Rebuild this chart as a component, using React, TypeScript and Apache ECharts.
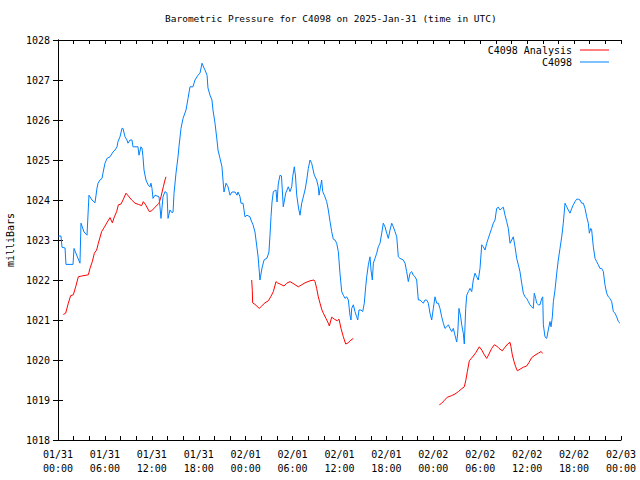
import React, { useEffect, useRef } from "react";
import * as echarts from "echarts";

// Hours since 2025-01-31 00:00 UTC, pressure in millibars
const stationReadings: [number, number][] = [
  [0.05, 1023.1], [0.38, 1023.1], [0.51, 1022.82], [0.9, 1022.8], [1.02, 1022.39], [1.92, 1022.39],
  [2.05, 1022.79], [2.43, 1022.6], [2.81, 1022.42], [2.94, 1023.42], [3.33, 1023.2], [3.71, 1023.12],
  [3.96, 1024.12], [4.35, 1024.0], [4.73, 1023.93], [4.99, 1024.3], [5.12, 1024.42], [5.37, 1024.5],
  [5.63, 1024.54], [5.75, 1024.67], [6.01, 1024.92], [6.27, 1025.04], [6.65, 1025.08], [7.03, 1025.2],
  [7.29, 1025.25], [7.55, 1025.33], [7.67, 1025.46], [7.93, 1025.58], [8.18, 1025.79], [8.31, 1025.79],
  [8.57, 1025.58], [8.82, 1025.5], [8.95, 1025.42], [9.21, 1025.5], [9.46, 1025.5], [9.59, 1025.33],
  [10.23, 1025.33], [10.36, 1025.12], [10.61, 1025.33], [10.74, 1025.3], [10.87, 1025.08], [11.0, 1024.75],
  [11.25, 1024.5], [11.51, 1024.38], [11.77, 1024.33], [11.89, 1024.42], [12.02, 1024.29], [12.15, 1024.04],
  [12.41, 1024.12], [12.92, 1024.08], [13.04, 1023.83], [13.17, 1023.54], [13.3, 1023.8], [13.43, 1024.08],
  [13.68, 1024.21], [13.94, 1024.17], [14.07, 1023.54], [14.32, 1023.75], [14.58, 1023.68], [14.71, 1023.7],
  [14.84, 1024.17], [15.09, 1024.67], [15.35, 1025.08], [15.47, 1025.33], [15.73, 1025.79], [15.99, 1026.04],
  [16.37, 1026.25], [16.63, 1026.54], [16.88, 1026.83], [17.26, 1026.83], [17.52, 1027.0], [17.9, 1027.12],
  [18.16, 1027.17], [18.42, 1027.42], [18.67, 1027.3], [18.8, 1027.25], [19.06, 1027.12], [19.18, 1026.8],
  [19.44, 1026.62], [19.69, 1026.5], [19.82, 1026.25], [20.08, 1025.92], [20.33, 1025.5], [20.46, 1025.25],
  [20.72, 1025.04], [20.97, 1024.83], [21.1, 1024.5], [21.23, 1024.2], [21.49, 1024.42], [21.74, 1024.33],
  [22.0, 1024.12], [22.25, 1024.2], [22.64, 1024.2], [22.89, 1024.12], [23.02, 1024.2], [23.28, 1024.08],
  [23.4, 1023.92], [23.66, 1023.92], [23.79, 1023.75], [23.91, 1023.58], [24.17, 1023.62], [24.55, 1023.58],
  [24.68, 1023.5], [24.94, 1023.38], [25.19, 1023.2], [25.32, 1023.0], [25.58, 1022.6], [25.83, 1022.0],
  [26.09, 1022.3], [26.35, 1022.5], [26.73, 1022.55], [26.98, 1022.7], [27.11, 1023.12], [27.24, 1023.58],
  [27.37, 1023.95], [27.54, 1024.21], [27.88, 1024.25], [28.01, 1023.95], [28.17, 1024.4], [28.39, 1024.62],
  [28.58, 1024.6], [28.81, 1023.83], [29.12, 1024.17], [29.45, 1024.33], [29.67, 1024.21], [29.89, 1024.33],
  [30.01, 1024.58], [30.22, 1024.83], [30.37, 1024.6], [30.53, 1024.12], [30.76, 1023.8], [30.95, 1023.62],
  [31.17, 1023.92], [31.59, 1024.25], [31.81, 1024.5], [32.01, 1024.79], [32.23, 1025.0], [32.44, 1024.92],
  [32.78, 1024.62], [33.08, 1024.5], [33.29, 1024.33], [33.38, 1024.12], [33.72, 1024.5], [33.85, 1024.21],
  [34.06, 1024.12], [34.36, 1023.96], [34.57, 1023.75], [34.79, 1023.46], [35.0, 1023.21], [35.21, 1023.02],
  [35.42, 1023.0], [35.64, 1022.92], [35.85, 1022.71], [36.06, 1022.17], [36.28, 1021.71], [36.49, 1021.62],
  [36.7, 1021.54], [36.92, 1021.58], [37.13, 1021.5], [37.34, 1021.12], [37.47, 1021.0], [37.56, 1021.29],
  [37.77, 1021.38], [37.98, 1021.21], [38.2, 1021.08], [38.33, 1021.0], [38.49, 1021.25], [38.75, 1021.25],
  [38.97, 1021.21], [39.17, 1021.42], [39.35, 1021.83], [39.48, 1022.08], [39.69, 1022.38], [39.9, 1022.58],
  [40.03, 1022.25], [40.2, 1022.0], [40.33, 1022.42], [40.54, 1022.54], [40.76, 1022.67], [40.96, 1022.83],
  [41.18, 1022.92], [41.4, 1023.17], [41.6, 1023.42], [41.82, 1023.33], [42.04, 1023.17], [42.24, 1023.04],
  [42.46, 1023.25], [42.68, 1023.42], [42.88, 1023.33], [43.1, 1023.21], [43.32, 1023.08], [43.52, 1022.58],
  [43.74, 1022.54], [44.16, 1022.5], [44.38, 1022.42], [44.59, 1022.21], [44.8, 1021.96], [45.02, 1022.17],
  [45.23, 1022.21], [45.44, 1022.12], [45.66, 1022.08], [45.87, 1022.0], [46.08, 1021.5], [46.3, 1021.5],
  [46.72, 1021.42], [46.93, 1021.5], [47.15, 1021.5], [47.36, 1021.42], [47.57, 1021.17], [47.79, 1021.0],
  [48.0, 1021.29], [48.21, 1021.58], [48.43, 1021.42], [48.64, 1021.42], [48.85, 1021.29], [49.07, 1021.08],
  [49.28, 1020.92], [49.49, 1020.79], [49.71, 1020.83], [49.92, 1020.88], [50.13, 1020.79], [50.35, 1020.71],
  [50.56, 1020.79], [50.77, 1020.62], [50.99, 1020.45], [51.12, 1020.67], [51.28, 1021.29], [51.5, 1021.08],
  [51.63, 1020.88], [51.83, 1020.67], [51.96, 1020.4], [52.14, 1021.29], [52.27, 1021.62], [52.48, 1021.71],
  [52.69, 1021.79], [52.91, 1021.71], [53.11, 1022.0], [53.33, 1022.17], [53.54, 1022.08], [53.75, 1022.0],
  [53.97, 1022.29], [54.19, 1022.88], [54.39, 1022.83], [54.61, 1022.75], [54.83, 1022.92], [55.03, 1023.04],
  [55.25, 1023.17], [55.46, 1023.29], [55.67, 1023.42], [55.89, 1023.5], [56.1, 1023.79], [56.31, 1023.82],
  [56.53, 1023.75], [56.74, 1023.79], [56.95, 1023.82], [57.17, 1023.62], [57.38, 1023.46], [57.59, 1023.29],
  [57.81, 1022.92], [58.02, 1023.0], [58.23, 1023.08], [58.45, 1022.83], [58.66, 1022.54], [58.87, 1022.38],
  [59.08, 1022.21], [59.3, 1021.92], [59.51, 1021.67], [59.72, 1021.58], [59.94, 1021.54], [60.15, 1021.46],
  [60.36, 1021.38], [60.58, 1021.33], [60.78, 1021.29], [60.91, 1021.67], [61.09, 1021.54], [61.22, 1021.42],
  [61.43, 1021.38], [61.64, 1021.38], [61.86, 1021.54], [61.99, 1021.58], [62.07, 1020.88], [62.28, 1020.58],
  [62.5, 1020.54], [62.7, 1020.75], [62.92, 1020.96], [63.05, 1020.83], [63.22, 1021.08], [63.35, 1021.46],
  [63.56, 1021.75], [63.78, 1022.17], [63.98, 1022.5], [64.2, 1022.79], [64.42, 1023.08], [64.62, 1023.42],
  [64.84, 1023.92], [65.06, 1023.83], [65.26, 1023.75], [65.48, 1023.67], [65.7, 1023.79], [65.9, 1023.88],
  [66.12, 1023.96], [66.33, 1024.02], [66.54, 1024.02], [66.76, 1024.0], [66.97, 1023.92], [67.18, 1023.92],
  [67.4, 1023.79], [67.61, 1023.58], [67.82, 1023.42], [67.95, 1023.17], [68.13, 1023.29], [68.25, 1023.25],
  [68.46, 1022.83], [68.68, 1022.54], [68.89, 1022.46], [69.1, 1022.38], [69.31, 1022.29], [69.53, 1022.29],
  [69.74, 1022.21], [69.95, 1021.88], [70.17, 1021.67], [70.38, 1021.58], [70.59, 1021.54], [70.81, 1021.46],
  [71.02, 1021.21], [71.23, 1021.17], [71.45, 1021.08], [71.66, 1020.96], [71.87, 1020.92],
];

const analysisRun1: [number, number][] = [
  [0.68, 1021.14], [0.98, 1021.17], [1.32, 1021.42], [1.62, 1021.61], [1.96, 1021.63], [2.26, 1021.83],
  [2.6, 1022.08], [3.03, 1022.1], [3.88, 1022.13], [4.09, 1022.29], [4.39, 1022.46], [4.65, 1022.67],
  [4.94, 1022.75], [5.16, 1022.92], [5.58, 1023.21], [5.93, 1023.32], [6.22, 1023.42], [6.65, 1023.56],
  [6.95, 1023.43], [7.21, 1023.58], [7.5, 1023.71], [7.72, 1023.88], [8.06, 1023.9], [8.36, 1024.02],
  [8.7, 1024.17], [9.0, 1024.1], [9.42, 1024.0], [9.85, 1023.92], [10.28, 1023.89], [10.7, 1023.86],
  [10.91, 1023.96], [11.21, 1023.88], [11.68, 1023.71], [11.98, 1023.73], [12.41, 1023.82], [12.92, 1023.92],
  [13.17, 1024.08], [13.47, 1024.33], [13.68, 1024.5], [13.81, 1024.58],
];

const analysisRun2: [number, number][] = [
  [24.77, 1022.0], [24.85, 1021.73], [24.89, 1021.43], [25.19, 1021.39], [25.74, 1021.29], [26.05, 1021.35],
  [26.47, 1021.43], [26.9, 1021.48], [27.2, 1021.58], [27.54, 1021.71], [27.88, 1021.96], [28.05, 1021.93],
  [28.39, 1021.9], [28.9, 1021.85], [29.25, 1021.92], [29.67, 1021.96], [30.18, 1021.9], [30.73, 1021.83],
  [31.17, 1021.88], [31.59, 1021.93], [32.23, 1021.98], [32.74, 1022.0], [32.87, 1021.96], [33.08, 1021.79],
  [33.29, 1021.58], [33.51, 1021.42], [33.72, 1021.27], [33.93, 1021.17], [34.27, 1021.04], [34.57, 1020.92],
  [34.7, 1020.85], [35.0, 1021.07], [35.34, 1021.02], [35.72, 1020.98], [35.94, 1021.02], [36.19, 1020.79],
  [36.49, 1020.58], [36.79, 1020.4], [37.13, 1020.43], [37.34, 1020.48], [37.77, 1020.54],
];

const analysisRun3: [number, number][] = [
  [48.77, 1018.88], [49.07, 1018.92], [49.36, 1018.98], [49.79, 1019.07], [50.35, 1019.11], [50.77, 1019.15],
  [51.2, 1019.21], [51.62, 1019.28], [51.96, 1019.33], [52.14, 1019.48], [52.35, 1019.71], [52.6, 1019.98],
  [52.82, 1020.03], [53.11, 1020.1], [53.42, 1020.18], [53.63, 1020.25], [53.88, 1020.33], [54.19, 1020.25],
  [54.52, 1020.13], [54.83, 1020.04], [55.12, 1020.15], [55.46, 1020.29], [55.8, 1020.38], [56.1, 1020.35],
  [56.4, 1020.29], [56.82, 1020.23], [57.17, 1020.32], [57.51, 1020.4], [57.81, 1020.44], [57.93, 1020.33],
  [58.1, 1020.13], [58.32, 1019.96], [58.53, 1019.83], [58.74, 1019.73], [59.08, 1019.77], [59.51, 1019.82],
  [59.94, 1019.85], [60.24, 1019.94], [60.58, 1020.06], [61.0, 1020.12], [61.43, 1020.17], [61.77, 1020.21],
  [61.99, 1020.17],
];

const TITLE = "Barometric Pressure for C4098 on 2025-Jan-31 (time in UTC)";
const Y_NAME = "milliBars";
const SERIES_ANALYSIS = "C4098 Analysis";
const SERIES_STATION = "C4098";
const START_UTC = Date.UTC(2025, 0, 31, 0, 0, 0);
const X_MIN = 0;
const X_MAX = 72;
const X_STEP = 6;
const Y_MIN = 1018;
const Y_MAX = 1028;

const FONT = "DejaVu Sans Mono";

function pad(n: number) {
  return String(n).padStart(2, "0");
}
function hourLabel(h: number) {
  const d = new Date(START_UTC + h * 3600 * 1000);
  return `${pad(d.getUTCMonth() + 1)}/${pad(d.getUTCDate())}\n${pad(d.getUTCHours())}:${pad(d.getUTCMinutes())}`;
}

function joinRuns(runs: [number, number][][]) {
  const out: (number | null)[][] = [];
  runs.forEach((run, i) => {
    if (i > 0) out.push([(runs[i - 1][runs[i - 1].length - 1][0] + run[0][0]) / 2, null]);
    run.forEach((p) => out.push([p[0], p[1]]));
  });
  return out;
}

export default function App() {
  const ref = useRef<HTMLDivElement>(null);
  useEffect(() => {
    if (!ref.current) return;
    const chart = echarts.init(ref.current, undefined, { renderer: "svg" });
    const black = "#000";
    const tickStyle = { color: black, width: 1 };
    const baseX = {
      type: "value",
      min: X_MIN,
      max: X_MAX,
      interval: X_STEP,
      axisLine: { show: true, lineStyle: { color: black, width: 1 } },
      axisTick: { show: true, inside: true, length: 4, lineStyle: tickStyle },
      minorTick: { show: true, splitNumber: 3, length: 4, lineStyle: tickStyle },
      splitLine: { show: false },
      minorSplitLine: { show: false },
    };
    const baseY = {
      type: "value",
      min: Y_MIN,
      max: Y_MAX,
      interval: 1,
      axisLine: { show: true, lineStyle: { color: black, width: 1 } },
      axisTick: { show: true, inside: true, length: 5, lineStyle: tickStyle },
      splitLine: { show: false },
    };
    const legendBase = {
      orient: "vertical",
      align: "right",
      right: 31,
      icon: "rect",
      itemWidth: 29,
      itemHeight: 1,
      padding: 0,
      selectedMode: false,
      textStyle: { fontFamily: FONT, fontSize: 10, color: black, padding: [0, 3, 0, 0] },
    };
    chart.setOption({
      animation: false,
      backgroundColor: "#ffffff",
      textStyle: { fontFamily: FONT, fontSize: 10, color: black },
      title: {
        text: TITLE,
        left: 165,
        top: 13,
        padding: 0,
        textStyle: { fontFamily: FONT, fontSize: 9.5, fontWeight: "normal", color: black },
      },
      legend: [
        { ...legendBase, top: 45, data: [SERIES_ANALYSIS] },
        { ...legendBase, top: 57, data: [SERIES_STATION] },
      ],
      grid: { left: 58, right: 19, top: 40, bottom: 40, containLabel: false, outerBoundsMode: "none" },
      xAxis: [
        {
          ...baseX,
          position: "bottom",
          axisLabel: {
            show: true,
            formatter: (v: number) => hourLabel(v),
            fontFamily: FONT,
            fontSize: 10,
            color: black,
            lineHeight: 14,
            margin: 7,
          },
        },
        { ...baseX, position: "top", axisLabel: { show: false } },
      ],
      yAxis: [
        {
          ...baseY,
          position: "left",
          name: Y_NAME,
          nameLocation: "middle",
          nameGap: 38,
          nameRotate: 90,
          nameTextStyle: { fontFamily: FONT, fontSize: 10, color: black },
          axisLabel: {
            show: true,
            formatter: (v: number) => String(v),
            fontFamily: FONT,
            fontSize: 10,
            color: black,
            margin: 8,
          },
        },
        { ...baseY, position: "right", axisLabel: { show: false } },
      ],
      series: [
        {
          name: SERIES_ANALYSIS,
          type: "line",
          xAxisIndex: 0,
          yAxisIndex: 0,
          data: joinRuns([analysisRun1, analysisRun2, analysisRun3]),
          symbol: "none",
          showSymbol: false,
          connectNulls: false,
          lineStyle: { color: "#ff0000", width: 1 },
          itemStyle: { color: "#ff0000" },
        },
        {
          name: SERIES_STATION,
          type: "line",
          xAxisIndex: 0,
          yAxisIndex: 0,
          data: stationReadings,
          symbol: "none",
          showSymbol: false,
          lineStyle: { color: "#0080ff", width: 1 },
          itemStyle: { color: "#0080ff" },
        },
      ],
    });
    return () => chart.dispose();
  }, []);
  return (
    <div
      ref={ref}
      style={{ position: "fixed", left: 0, top: 0, width: 640, height: 480, background: "#fff" }}
    />
  );
}
